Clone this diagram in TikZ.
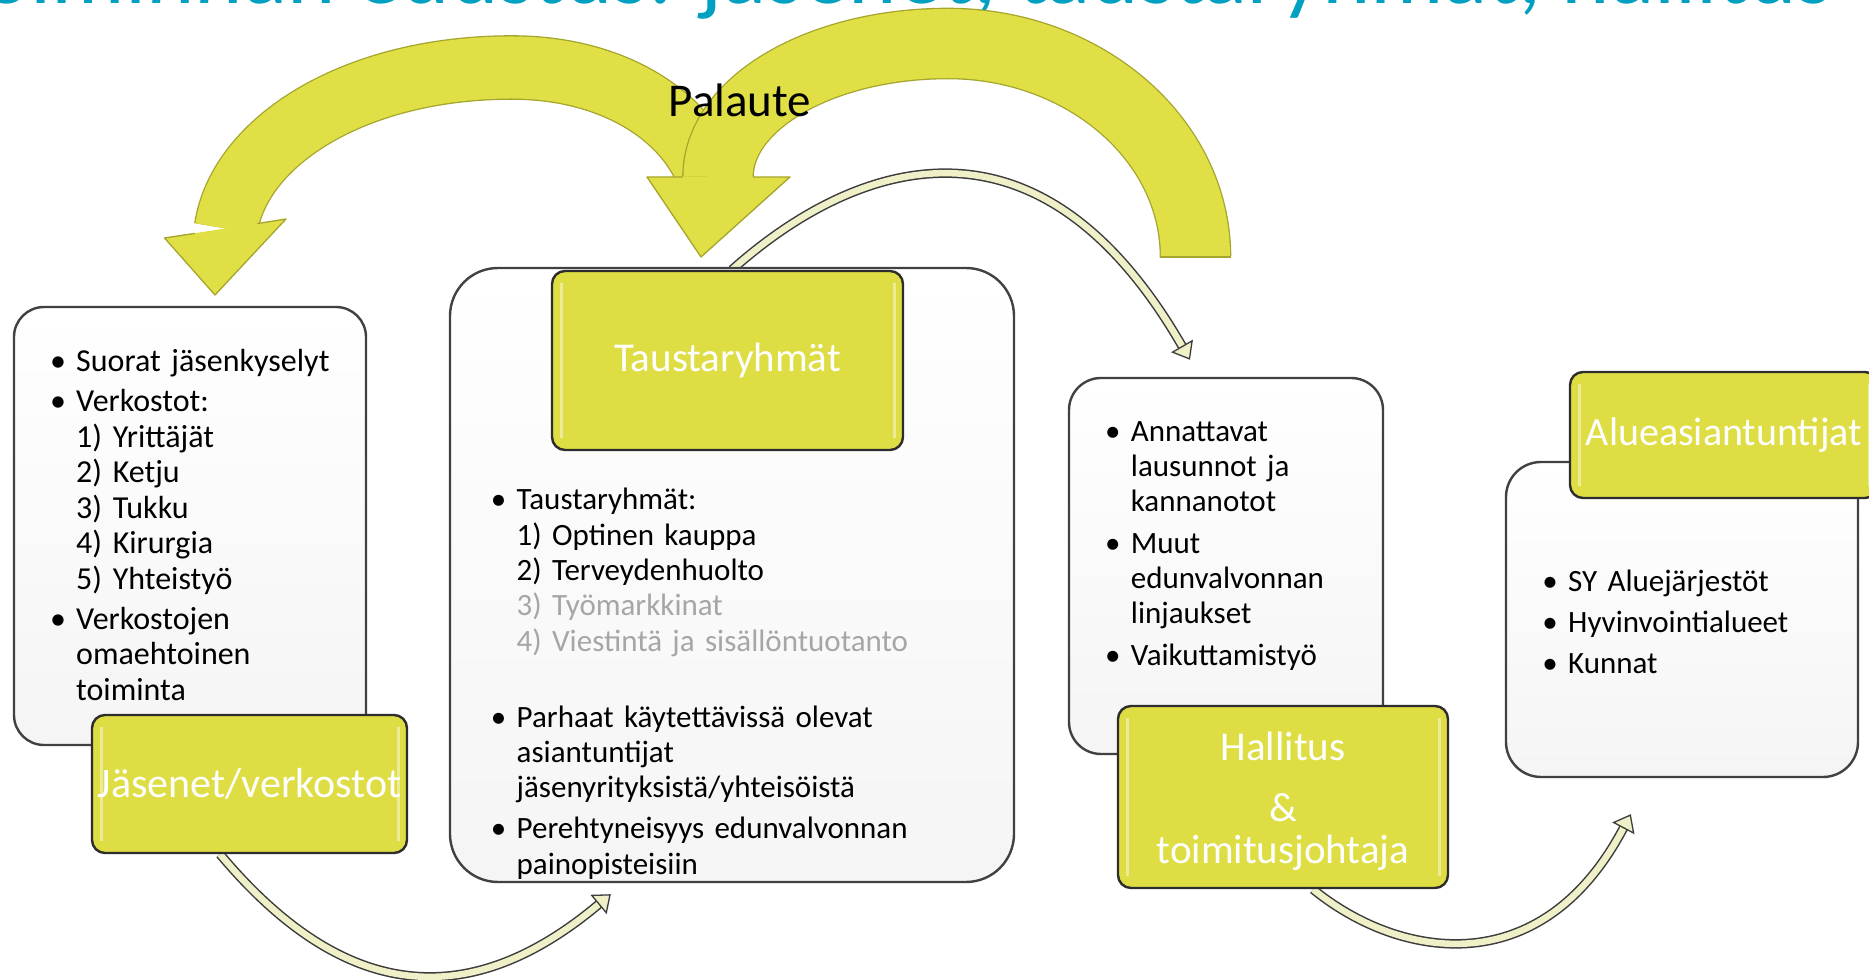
\documentclass[tikz,border=0pt]{standalone}
\usepackage{fontspec}
\setmainfont{Carlito}
\usetikzlibrary{positioning,calc,arrows.meta}
\definecolor{titlecyan}{RGB}{0,160,192}
\definecolor{arrowyellow}{RGB}{224,223,69}
\definecolor{arrowedge}{RGB}{165,165,45}
\definecolor{boxyellow}{RGB}{222,221,68}
\definecolor{boxedge}{RGB}{45,45,45}
\definecolor{listedge}{RGB}{65,65,65}
\definecolor{flowcream}{RGB}{240,240,200}
\definecolor{flowedge}{RGB}{60,60,60}
\definecolor{dimtext}{RGB}{166,166,166}
\newcommand{\bul}{\makebox[36pt][c]{\textbullet}}
\newcommand{\ind}{\hspace*{36pt}}
\pgfdeclarelayer{background}
\pgfsetlayers{background,main}

\begin{document}
\begin{tikzpicture}[x=1pt,y=1pt,
listbox/.style={draw=listedge,line width=2.4pt,top color=white,bottom color=black!4,inner sep=0pt},
headbox/.style={draw=boxedge,line width=2.4pt,fill=boxyellow,rounded corners=13pt,inner sep=0pt,
  text=white,align=center,
  path picture={\draw[white,opacity=.45,line width=3pt]
    ([xshift=9pt,yshift=-12pt]path picture bounding box.north west) -- ([xshift=9pt,yshift=12pt]path picture bounding box.south west)
    ([xshift=-9pt,yshift=-12pt]path picture bounding box.north east) -- ([xshift=-9pt,yshift=12pt]path picture bounding box.south east);}},
listtext/.style={anchor=base west,inner sep=0pt,align=left},
band/.style={draw=arrowedge,line width=1.3pt,double=arrowyellow},
bandhead/.style={fill=arrowyellow},
bandrim/.style={draw=arrowedge,line width=1.3pt,line join=round},
flow/.style={draw=flowedge,line width=1.5pt,double=flowcream,double distance=6.5pt,
  -{Triangle[width=25pt,length=16pt,fill=flowcream,line width=1.3pt]}}]

\useasboundingbox (0,0) rectangle (1869,980);
\clip (0,0) rectangle (1869,980);

% title (cut by the top edge)
\node[anchor=base east,inner sep=0pt,text=titlecyan,font=\fontsize{92}{94}\selectfont] (title) at (1833,976) {Toiminnan edustus: jäsenet, taustaryhmät, hallitus};

% list boxes
\node[listbox,rounded corners=30pt,minimum width=352pt,minimum height=438pt] (jaslist) at (190,454) {};
\node[listbox,rounded corners=48pt,minimum width=564pt,minimum height=614pt] (taustalist) at (732,405) {};
\node[listbox,rounded corners=32pt,minimum width=314pt,minimum height=376pt] (hallist) at (1226,414) {};
\node[listbox,rounded corners=35pt,minimum width=352pt,minimum height=315pt] (aluelist) at (1682,360.5) {};

% list texts
\node[listtext,text width=310pt,font=\fontsize{32}{35.5}\selectfont] (jastext) at (40,608)
  {\bul Suorat jäsenkyselyt\\[4.5pt]
   \bul Verkostot:\\
   \ind 1) Yrittäjät\\
   \ind 2) Ketju\\
   \ind 3) Tukku\\
   \ind 4) Kirurgia\\
   \ind 5) Yhteistyö\\[4.5pt]
   \bul Verkostojen\\
   \ind omaehtoinen\\
   \ind toiminta};
\node[listtext,text width=500pt,font=\fontsize{31}{35.3}\selectfont] (taustatext) at (480.5,470)
  {\bul Taustaryhmät:\\
   \ind 1) Optinen kauppa\\
   \ind 2) Terveydenhuolto\\
   \ind\textcolor{dimtext}{3) Työmarkkinat}\\
   \ind\textcolor{dimtext}{4) Viestintä ja sisällöntuotanto}\\[40.7pt]
   \bul Parhaat käytettävissä olevat\\
   \ind asiantuntijat\\
   \ind jäsenyrityksistä/yhteisöistä\\[5.7pt]
   \bul Perehtyneisyys edunvalvonnan\\
   \ind painopisteisiin};
\node[listtext,text width=280pt,font=\fontsize{31}{35}\selectfont] (haltext) at (1094.7,538)
  {\bul Annattavat\\
   \ind lausunnot ja\\
   \ind kannanotot\\[7pt]
   \bul Muut\\
   \ind edunvalvonnan\\
   \ind linjaukset\\[7pt]
   \bul Vaikuttamistyö};
\node[listtext,text width=320pt,font=\fontsize{31}{35}\selectfont] (aluetext) at (1532,388)
  {\bul SY Aluejärjestöt\\[6pt]
   \bul Hyvinvointialueet\\[6pt]
   \bul Kunnat};

% yellow heads
\node[headbox,minimum width=315pt,minimum height=138pt,font=\fontsize{42}{44}\selectfont] (jasen) at (249.5,196) {Jäsenet/verkostot};
\node[headbox,minimum width=351pt,minimum height=179pt,font=\fontsize{41}{44}\selectfont] (taustahead) at (727.5,619.5) {Taustaryhmät};
\node[headbox,minimum width=330pt,minimum height=182pt,font=\fontsize{41}{42}\selectfont] (hallitus) at (1283,183) {\rule{0pt}{37pt}Hallitus\\[19pt]\&\\toimitusjohtaja};
\node[headbox,minimum width=308pt,minimum height=126pt,font=\fontsize{40}{42}\selectfont] (aluehead) at (1724,545) {Alueasiantuntijat};

% flow arrows, under the boxes
\begin{pgfonlayer}{background}
\fill[white] (0,0) rectangle (1869,980);
\draw[flow] ([xshift=-29.5pt]jasen.south) .. controls +(114.6,-136.5) and +(-152,-127.5) .. ([xshift=162pt,yshift=-11pt]taustalist.south west);
\draw[flow] ([xshift=4.5pt]taustahead.north) .. controls +(105,94) and +(-161,279) .. ([xshift=-36pt,yshift=17pt]hallist.north);
\draw[flow] ([xshift=30pt]hallitus.south) .. controls +(83,-68) and +(-91,-172) .. ([xshift=126pt,yshift=-36pt]aluelist.south west);
\end{pgfonlayer}

% feedback arrows
\coordinate (atail) at (715,780);
\coordinate (atop) at (512,912.5);
\coordinate (abase) at (226,751.5);
\draw[band,double distance=62pt] (atail) .. controls (703,853) and (624,912.5) .. (atop)
  .. controls (354,912.5) and (239,838.5) .. (abase);
\fill[bandhead] (164.5,742) -- (215,685) -- (286,761) -- cycle;
\draw[bandrim] (194.7,746.6) -- (164.5,742) -- (215,685) -- (286,761) -- (257.3,756.4);

\coordinate (btail) at (1195.5,723);
\coordinate (btop) at (948,936.5);
\coordinate (bbase) at (718,803);
\draw[band,double distance=69pt] (btail) .. controls (1195.5,841) and (1084,936.5) .. (btop)
  .. controls (821,936.5) and (718,877) .. (bbase);
\fill[bandhead] (647,803) -- (701,723) -- (790,803) -- cycle;
\draw[bandrim] (682.9,803) -- (647,803) -- (701,723) -- (790,803) -- (753.1,803);
\draw[bandrim] (1160.4,723) -- (1230.6,723);

\node[font=\fontsize{47}{48}\selectfont] (palaute) at (740,880) {Palaute};

\end{tikzpicture}
\end{document}
